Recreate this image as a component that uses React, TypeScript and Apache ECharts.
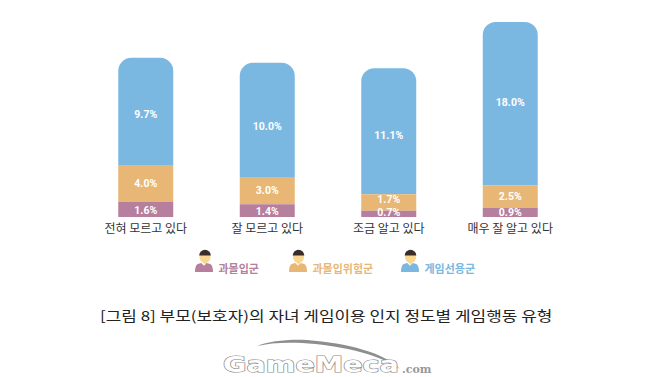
import React, { useEffect, useRef } from "react";
import * as echarts from "echarts";

const categories = ["전혀 모르고 있다", "잘 모르고 있다", "조금 알고 있다", "매우 잘 알고 있다"];
const seriesNames = ["과몰입군", "과몰입위험군", "게임선용군"];
const colors = ["#B67F9D", "#E9B775", "#7BB8E1"];
// Labels as printed on the picture
const addictedLabels = ["1.6%", "1.4%", "0.7%", "0.9%"];
const riskLabels = ["4.0%", "3.0%", "1.7%", "2.5%"];
const goodLabels = ["9.7%", "10.0%", "11.1%", "18.0%"];
// Segment heights as drawn in the picture (not all to scale with their labels)
const addictedDrawn = [1.65, 1.4, 0.7, 1.0];
const riskDrawn = [4.0, 3.0, 1.8, 2.5];
const goodDrawn = [11.9, 12.6, 13.9, 18.0];
const caption = "[그림 8] 부모(보호자)의 자녀 게임이용 인지 정도별 게임행동 유형";

const FONT = "'Noto Sans CJK KR', 'Noto Sans', sans-serif";
const bodyIcon = "path://M7,0 L10,3 L13,0 L17,1 C19,2 20,5 20,10 L0,10 C0,5 1,2 3,1 Z";
const LOGO_ARC = "M0,5 C12,0 32,-2 50,-1 C90,2 128,12 143,28 C120,12 80,4 45,2 C28,1 12,2 0,5 Z";
echarts.graphic.registerShape("logoArc", echarts.graphic.extendPath(LOGO_ARC, {}) as any);

function personHead(cx: number) {
  return [
    { type: "ellipse", shape: { cx, cy: 257, rx: 5.5, ry: 6 }, style: { fill: "#FAD690" }, z: 10 },
    { type: "sector", shape: { cx, cy: 255.5, r: 5.8, r0: 0, startAngle: Math.PI, endAngle: 2 * Math.PI }, style: { fill: "#3B2C28" }, z: 11 },
    { type: "polygon", shape: { points: [[cx - 2.5, 261], [cx + 2.5, 261], [cx, 265]] }, style: { fill: "#FAD690" }, z: 11 },
  ];
}

function makeSeries(i: number, drawn: number[], labels: string[], radius: number[], nudges: number[]) {
  return {
    name: seriesNames[i],
    type: "bar",
    stack: "total",
    barWidth: 55,
    z: 6 - i,
    data: drawn.map((value, k) => ({ value, label: { offset: [0, nudges[k]] } })),
    itemStyle: { color: colors[i], borderRadius: radius },
    label: {
      show: true,
      position: "inside",
      color: "#fff",
      fontFamily: "Roboto, sans-serif",
      fontWeight: "bold",
      fontSize: 10.5,
      formatter: (p: any) => labels[p.dataIndex],
    },
  };
}

export default function App() {
  const ref = useRef<HTMLDivElement>(null);
  useEffect(() => {
    const chart = echarts.init(ref.current!, undefined, { renderer: "svg" });
    const legendBase = { orient: "horizontal", top: 262, padding: 0, itemWidth: 19, itemHeight: 9, itemGap: 0, selectedMode: false };
    const lefts = [195, 289, 401];
    chart.setOption({
      animation: false,
      backgroundColor: "#fff",
      legend: seriesNames.map((n, i) => ({
        ...legendBase,
        left: lefts[i],
        data: [{ name: n, icon: bodyIcon }],
        textStyle: { color: colors[i], fontFamily: FONT, fontSize: 11, fontWeight: "bold" },
      })),
      grid: { left: 85, width: 486, top: 17.5, height: 199.5 },
      xAxis: {
        type: "category",
        data: categories,
        axisLine: { show: false },
        axisTick: { show: false },
        axisLabel: { color: "#333", fontFamily: FONT, fontSize: 12, margin: 4 },
      },
      yAxis: { type: "value", min: 0, max: 22, show: false },
      series: [
        makeSeries(0, addictedDrawn, addictedLabels, [0, 0, 0, 0], [1, 1, -1.5, 0]),
        makeSeries(1, riskDrawn, riskLabels, [0, 0, 0, 0], [0, 0, -3, 0]),
        makeSeries(2, goodDrawn, goodLabels, [13, 13, 0, 0], [3, 7, 4, -1.5]),
      ],
      graphic: [
        ...personHead(205),
        ...personHead(298.5),
        ...personHead(410.5),
        {
          type: "text",
          x: 100,
          y: 308,
          scaleX: 1.256,
          style: { text: caption, font: `13.5px ${FONT}`, fill: "#222" },
        },
        { type: "logoArc", x: 257, y: 341, style: { fill: "#8E8E8E" } },
        {
          type: "text",
          x: 223,
          y: 354,
          scaleX: 1.36,
          style: {
            text: "GameMeca",
            font: "bold 21px 'DejaVu Sans'",
            fill: "#fff",
            stroke: "#8A8A8A",
            lineWidth: 1.2,
          },
        },
        {
          type: "text",
          x: 402,
          y: 364,
          style: { text: ".com", font: "bold 11px 'DejaVu Serif'", fill: "#999" },
        },
      ],
    });
    return () => chart.dispose();
  }, []);
  return <div ref={ref} style={{ position: "absolute", left: 0, top: 0, width: 660, height: 377, overflow: "hidden" }} />;
}
